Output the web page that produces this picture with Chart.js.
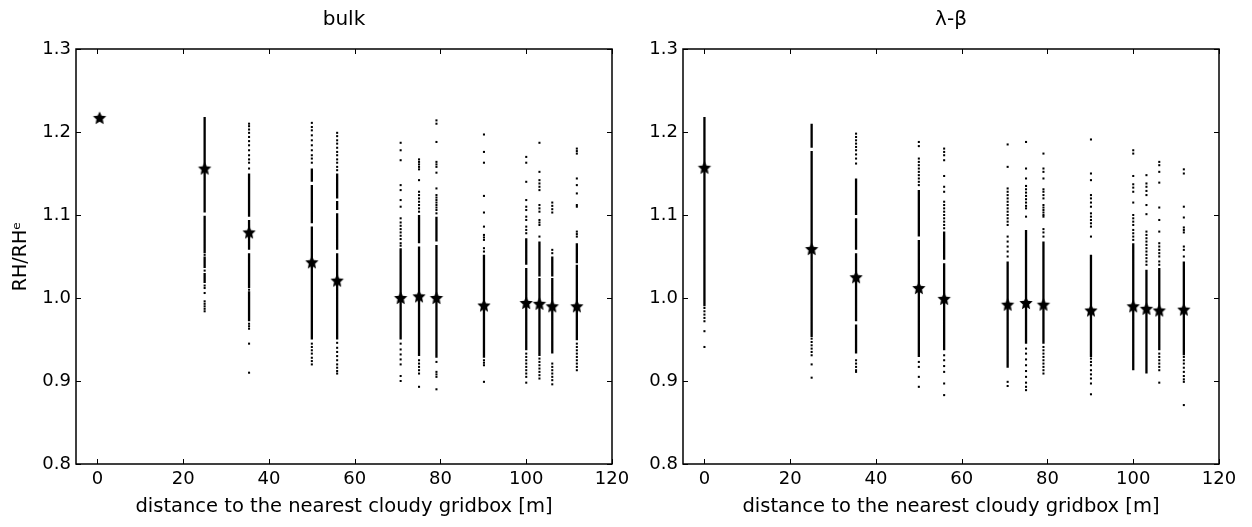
<!DOCTYPE html>
<html>
<head>
<meta charset="utf-8">
<script src="https://cdn.jsdelivr.net/npm/chart.js@4.4.0/dist/chart.umd.min.js"></script>
<style>
  body { margin: 0; background: #fff; }
  #wrap { position: relative; width: 1252px; height: 527px; }
  .panel { position: absolute; top: 0; height: 527px; }
</style>
</head>
<body>
<div id="wrap">
  <div class="panel" style="left:0;width:640px"><canvas id="bulkChart"></canvas></div>
  <div class="panel" style="left:640px;width:612px"><canvas id="lbChart"></canvas></div>
</div>
<script>
// distances of the columns [m]
const distance = [0, 25, 35.36, 50, 55.9, 70.71, 75, 79.06, 90.14, 100, 103.08, 106.07, 111.8];
const bulkDistance = [0.5, 25, 35.36, 50, 55.9, 70.71, 75, 79.06, 90.14, 100, 103.08, 106.07, 111.8];

const xTicks = [0, 20, 40, 60, 80, 100, 120];
const yTicks = [0.8, 0.9, 1.0, 1.1, 1.2, 1.3];

// bulk panel
const bulkMean = [1.217, 1.156, 1.079, 1.043, 1.021, 1.000, 1.002, 1.000, 0.991, 0.994, 0.993, 0.990, 0.990];
const bulkLines = [
  [],
  [[1.103, 1.218], [1.054, 1.099], [1.036, 1.050], [1.018, 1.030]],
  [[1.098, 1.150], [1.058, 1.094], [1.012, 1.054], [0.972, 1.008]],
  [[1.140, 1.156], [1.090, 1.136], [0.950, 1.086]],
  [[1.120, 1.150], [1.106, 1.117], [1.058, 1.102], [0.950, 1.054]],
  [[1.002, 1.060], [0.950, 0.998]],
  [[1.066, 1.100], [0.930, 1.062]],
  [[1.068, 1.098], [0.928, 1.064]],
  [[0.928, 1.052]],
  [[1.040, 1.072], [0.937, 1.036]],
  [[1.026, 1.068], [0.930, 1.024]],
  [[1.026, 1.050], [0.933, 1.024]],
  [[1.042, 1.066], [0.949, 1.040]]
];
const bulkDots = [
  [],
  [1.052, 1.033, 1.015, 1.012, 1.006, 0.996, 0.993, 0.990, 0.987, 0.984],
  [1.210, 1.207, 1.203, 1.199, 1.194, 1.189, 1.184, 1.178, 1.172, 1.167, 1.163, 1.156, 1.010, 0.969, 0.966, 0.963, 0.945, 0.910],
  [1.211, 1.206, 1.202, 1.196, 1.190, 1.184, 1.178, 1.172, 1.168, 1.163, 0.945, 0.941, 0.937, 0.933, 0.928, 0.924, 0.920],
  [1.199, 1.195, 1.190, 1.186, 1.181, 1.176, 1.172, 1.167, 1.163, 1.158, 1.154, 0.946, 0.940, 0.935, 0.930, 0.925, 0.920, 0.916, 0.912, 0.909],
  [1.187, 1.178, 1.166, 1.136, 1.130, 1.118, 1.110, 1.096, 1.091, 1.087, 1.083, 1.079, 1.075, 1.071, 1.066, 1.063, 0.945, 0.938, 0.932, 0.926, 0.920, 0.906, 0.900],
  [1.167, 1.164, 1.161, 1.158, 1.155, 1.142, 1.128, 1.124, 1.120, 1.116, 1.112, 1.108, 1.104, 0.925, 0.921, 0.917, 0.913, 0.909, 0.893],
  [1.214, 1.210, 1.188, 1.164, 1.161, 1.158, 1.151, 1.132, 1.124, 1.121, 1.118, 1.115, 1.112, 1.109, 1.106, 1.102, 0.923, 0.911, 0.908, 0.905, 0.890],
  [1.197, 1.176, 1.163, 1.123, 1.103, 1.086, 1.076, 1.073, 1.070, 1.060, 1.056, 0.925, 0.922, 0.919, 0.899],
  [1.170, 1.163, 1.140, 1.118, 1.110, 1.106, 1.098, 1.094, 1.086, 1.082, 1.078, 0.933, 0.929, 0.925, 0.921, 0.917, 0.913, 0.909, 0.905, 0.898],
  [1.187, 1.152, 1.142, 1.138, 1.134, 1.130, 1.112, 1.108, 1.104, 1.094, 1.091, 1.088, 1.074, 0.927, 0.923, 0.919, 0.915, 0.911, 0.907, 0.903],
  [1.115, 1.111, 1.107, 1.103, 1.058, 1.054, 0.921, 0.917, 0.913, 0.909, 0.905, 0.901, 0.896],
  [1.180, 1.177, 1.174, 1.144, 1.136, 1.126, 1.112, 1.110, 1.080, 1.077, 1.074, 0.945, 0.941, 0.937, 0.933, 0.929, 0.925, 0.921, 0.917, 0.913]
];

// lambda-beta panel
const lbMean = [1.157, 1.059, 1.025, 1.012, 0.999, 0.992, 0.994, 0.992, 0.985, 0.990, 0.987, 0.985, 0.986];
const lbLines = [
  [[0.990, 1.218]],
  [[1.181, 1.210], [0.953, 1.177]],
  [[1.100, 1.144], [1.058, 1.096], [0.972, 1.054], [0.933, 0.968]],
  [[1.074, 1.130], [0.929, 1.070]],
  [[1.046, 1.080], [0.937, 1.042]],
  [[0.916, 1.044]],
  [[0.945, 1.082]],
  [[0.945, 1.068]],
  [[0.929, 1.052]],
  [[0.913, 1.066]],
  [[0.909, 1.034]],
  [[0.937, 1.036]],
  [[0.931, 1.044]]
];
const lbDots = [
  [0.988, 0.984, 0.980, 0.976, 0.972, 0.960, 0.941],
  [0.951, 0.947, 0.943, 0.939, 0.935, 0.931, 0.920, 0.904],
  [1.198, 1.194, 1.190, 1.186, 1.182, 1.178, 1.173, 1.168, 1.162, 0.925, 0.921, 0.917, 0.913, 0.911],
  [1.188, 1.183, 1.168, 1.164, 1.160, 1.156, 1.152, 1.148, 1.144, 1.140, 1.136, 0.923, 0.917, 0.905, 0.893],
  [1.180, 1.176, 1.172, 1.166, 1.147, 1.134, 1.128, 1.116, 1.112, 1.108, 1.104, 1.100, 1.096, 1.092, 1.088, 1.084, 0.931, 0.925, 0.918, 0.911, 0.897, 0.883],
  [1.185, 1.158, 1.132, 1.128, 1.124, 1.120, 1.116, 1.112, 1.108, 1.104, 1.100, 1.096, 1.092, 1.088, 1.074, 1.068, 1.062, 1.056, 1.050, 0.899, 0.894],
  [1.188, 1.156, 1.144, 1.135, 1.131, 1.127, 1.123, 1.119, 1.115, 1.111, 1.108, 1.098, 0.939, 0.933, 0.926, 0.919, 0.912, 0.905, 0.898, 0.893, 0.889],
  [1.174, 1.156, 1.152, 1.144, 1.131, 1.128, 1.124, 1.120, 1.112, 1.109, 1.106, 1.103, 1.100, 1.098, 1.083, 1.079, 1.074, 0.941, 0.937, 0.933, 0.929, 0.925, 0.921, 0.917, 0.913, 0.909],
  [1.191, 1.150, 1.142, 1.124, 1.120, 1.115, 1.110, 1.102, 1.098, 1.094, 1.090, 1.086, 1.074, 0.927, 0.923, 0.919, 0.913, 0.908, 0.903, 0.897, 0.884],
  [1.178, 1.174, 1.147, 1.137, 1.133, 1.128, 1.115, 1.100, 1.096, 1.092, 1.088, 1.082, 1.078, 1.074, 1.070],
  [1.148, 1.138, 1.134, 1.129, 1.124, 1.112, 1.101, 1.080, 1.076, 1.072, 1.068, 1.064, 1.060, 1.056, 1.052, 1.048, 1.044, 1.040],
  [1.164, 1.160, 1.152, 1.139, 1.109, 1.094, 1.080, 1.066, 1.062, 1.058, 1.054, 1.050, 1.044, 1.040, 0.933, 0.929, 0.925, 0.921, 0.917, 0.913, 0.898],
  [1.155, 1.150, 1.110, 1.097, 1.085, 1.082, 1.079, 1.062, 1.058, 1.050, 0.929, 0.925, 0.921, 0.916, 0.911, 0.906, 0.902, 0.899, 0.871]
];

const FONT = '"DejaVu Sans", sans-serif';

// filled five point star used as marker
function makeStar(r) {
  const s = Math.ceil(r * 2) + 2;
  const c = document.createElement("canvas");
  c.width = s;
  c.height = s;
  const ctx = c.getContext("2d");
  ctx.beginPath();
  for (let i = 0; i < 10; i++) {
    const rad = i % 2 ? r * 0.47 : r;
    const a = -Math.PI / 2 + i * Math.PI / 5;
    ctx.lineTo(s / 2 + rad * Math.cos(a), s / 2 + 0.5 + rad * Math.sin(a));
  }
  ctx.closePath();
  ctx.fillStyle = "#000";
  ctx.fill();
  return c;
}
const star = makeStar(7);

// frame, inward ticks and panel title
const framePlugin = {
  id: "frame",
  afterDraw(chart, args, opts) {
    const { ctx, chartArea: a } = chart;
    const x = chart.scales.x, y = chart.scales.y;
    ctx.save();
    ctx.strokeStyle = "#000";
    ctx.lineWidth = 1;
    ctx.beginPath();
    xTicks.forEach((v) => {
      const px = Math.round(x.getPixelForValue(v)) + 0.5;
      ctx.moveTo(px, a.bottom); ctx.lineTo(px, a.bottom - 5);
      ctx.moveTo(px, a.top); ctx.lineTo(px, a.top + 5);
    });
    yTicks.forEach((v) => {
      const py = Math.round(y.getPixelForValue(v)) + 0.5;
      ctx.moveTo(a.left, py); ctx.lineTo(a.left + 5, py);
      ctx.moveTo(a.right, py); ctx.lineTo(a.right - 5, py);
    });
    ctx.stroke();
    ctx.lineWidth = 1.5;
    ctx.strokeRect(a.left, a.top, a.right - a.left, a.bottom - a.top);
    ctx.fillStyle = "#000";
    ctx.font = "20px " + FONT;
    ctx.textAlign = "center";
    ctx.textBaseline = "middle";
    ctx.fillText(opts.text, (a.left + a.right) / 2, 20);
    ctx.restore();
  }
};

function buildChart(id, title, xs, means, lines, dots, yWidth, padRight, yTitle) {
  const linePts = [];
  const dotPts = [];
  xs.forEach((xv, i) => {
    lines[i].forEach((seg) => {
      linePts.push({ x: xv, y: seg[0] }, { x: xv, y: seg[1] }, { x: xv, y: null });
    });
    dots[i].forEach((v) => dotPts.push({ x: xv, y: v }));
  });
  const meanPts = xs.map((xv, i) => ({ x: xv, y: means[i] }));

  return new Chart(document.getElementById(id), {
    type: "scatter",
    data: {
      datasets: [
        { data: meanPts, pointStyle: star, pointRadius: 7, showLine: false },
        { data: dotPts, pointStyle: "rect", pointRadius: 1.45, backgroundColor: "#000", borderWidth: 0, showLine: false },
        { data: linePts, showLine: true, spanGaps: false, borderColor: "#000", borderWidth: 2.3, pointRadius: 0, borderCapStyle: "butt" }
      ]
    },
    options: {
      responsive: true,
      maintainAspectRatio: false,
      animation: false,
      events: [],
      layout: { padding: { top: 49, right: padRight, left: 0, bottom: 0 } },
      plugins: {
        legend: { display: false },
        tooltip: { enabled: false },
        frame: { text: title }
      },
      scales: {
        x: {
          type: "linear",
          min: -5,
          max: 120,
          afterBuildTicks: (s) => { s.ticks = xTicks.map((v) => ({ value: v })); },
          afterFit: (s) => { s.height = 63; },
          ticks: { color: "#000", padding: 5, maxRotation: 0, font: { family: FONT, size: 18 } },
          grid: { display: false, drawTicks: false },
          border: { display: false },
          title: {
            display: true,
            text: "distance to the nearest cloudy gridbox [m]",
            color: "#000",
            font: { family: FONT, size: 19.5 },
            padding: { top: 0, bottom: 8 }
          }
        },
        y: {
          type: "linear",
          min: 0.8,
          max: 1.3,
          afterBuildTicks: (s) => { s.ticks = yTicks.map((v) => ({ value: v })); },
          afterFit: (s) => { s.width = yWidth; },
          ticks: { color: "#000", padding: 5, font: { family: FONT, size: 18 }, callback: (v) => v.toFixed(1) },
          grid: { display: false, drawTicks: false },
          border: { display: false },
          title: {
            display: !!yTitle,
            text: yTitle || "",
            color: "#000",
            font: { family: FONT, size: 19 },
            padding: { top: 10, bottom: 0 }
          }
        }
      }
    },
    plugins: [framePlugin]
  });
}

window.addEventListener("load", function () {
  buildChart("bulkChart", "bulk", bulkDistance, bulkMean, bulkLines, bulkDots, 76, 28, "RH/RH\u1D49");
  buildChart("lbChart", "\u03BB-\u03B2", distance, lbMean, lbLines, lbDots, 43, 33, null);
});
</script>
</body>
</html>
